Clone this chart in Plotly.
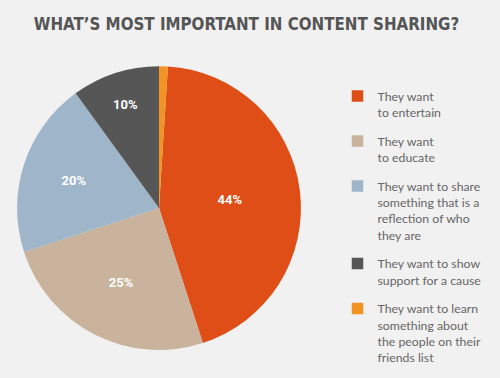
import plotly.graph_objects as go

categories = [
    "They want<br>to entertain",
    "They want<br>to educate",
    "They want to share<br>something that is a<br>reflection of who<br>they are",
    "They want to show<br>support for a cause",
    "They want to learn<br>something about<br>the people on their<br>friends list",
]
values = [44, 25, 20, 10, 1]
colors = ["#e04e18", "#c9b39c", "#9fb5ca", "#565656", "#f39324"]
labels_text = ["44%", "25%", "20%", "10%", ""]


def legend_name(label):
    # glyph size tuned separately from the legend's line spacing
    return "<br>".join('<span style="font-size:12.3px">%s</span>' % ln for ln in label.split("<br>"))


fig = go.Figure()
fig.add_trace(go.Pie(
    labels=categories,
    values=values,
    sort=False,
    direction="clockwise",
    rotation=3.6,
    marker=dict(colors=colors, line=dict(width=0)),
    text=labels_text,
    textinfo="text",
    textposition="inside",
    insidetextorientation="horizontal",
    textfont=dict(color="white", size=13, family="Roboto", weight="bold"),
    domain=dict(x=[0.034, 0.602], y=[0.074, 0.825]),
    hoverinfo="label+percent",
    showlegend=False,
))

# legend entries (one group per category so the legend gap applies)
for name, col in zip(categories, colors):
    fig.add_trace(go.Scatter(
        x=[None], y=[None], mode="markers", name=legend_name(name),
        legendgroup=name,
        marker=dict(symbol="square", size=11.5, color=col),
        hoverinfo="skip",
    ))

fig.update_layout(
    width=500, height=378,
    paper_bgcolor="#f1f1f1",
    plot_bgcolor="#f1f1f1",
    margin=dict(l=0, r=0, t=0, b=0),
    xaxis=dict(visible=False),
    yaxis=dict(visible=False),
    title=dict(
        text="<b>WHAT’S MOST IMPORTANT IN CONTENT SHARING?</b>",
        x=0.493, xanchor="center", y=0.935, yanchor="middle",
        font=dict(family="DejaVu Sans Condensed", size=16.8, color="#555555"),
    ),
    legend=dict(
        x=0.675, xanchor="left", y=0.785, yanchor="top",
        font=dict(family="Lato", size=12.5, color="#666666"),
        valign="top",
        traceorder="grouped",
        tracegroupgap=9.5,
        bgcolor="rgba(0,0,0,0)",
        itemclick=False, itemdoubleclick=False,
    ),
    showlegend=True,
)

fig.write_html(
    "out.html",
    config={"displayModeBar": False},
    post_script="document.body.style.margin='0';document.body.style.padding='0';",
)
